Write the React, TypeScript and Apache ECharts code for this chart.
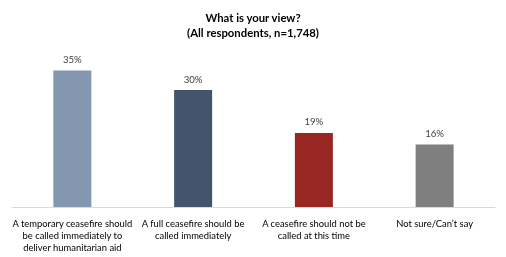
import React, { useEffect, useRef } from "react";
import * as echarts from "echarts";

const categories = [
  "A temporary ceasefire should\nbe called immediately to\ndeliver humanitarian aid",
  "A full ceasefire should be\ncalled immediately",
  "A ceasefire should not be\ncalled at this time",
  "Not sure/Can\u2019t say",
];
const values = [35, 30, 19, 16];
const colors = ["#8497b0", "#44546a", "#982723", "#7f7f7f"];
const titleLines = ["What is your view?", "(All respondents, n=1,748)"];

export default function App() {
  const ref = useRef<HTMLDivElement>(null);
  useEffect(() => {
    if (!ref.current) return;
    const chart = echarts.init(ref.current, undefined, { renderer: "svg" });
    const font = "Lato, 'Open Sans', sans-serif";
    chart.setOption({
      animation: false,
      title: {
        text: titleLines.join("\n"),
        left: "center",
        top: 5,
        textStyle: {
          fontFamily: font,
          fontSize: 11.3,
          fontWeight: "bold",
          color: "#000",
          lineHeight: 15,
        },
      },
      grid: { left: 12, right: 11, top: 51, bottom: 50, containLabel: false },
      xAxis: {
        type: "category",
        data: categories,
        axisLine: { lineStyle: { color: "#d9d9d9", width: 1 } },
        axisTick: { show: false },
        axisLabel: {
          interval: 0,
          color: "#000",
          fontFamily: font,
          fontSize: 9.4,
          lineHeight: 12,
          margin: 10,
        },
      },
      yAxis: {
        type: "value",
        min: 0,
        max: 40,
        show: false,
        splitLine: { show: false },
      },
      series: [
        {
          type: "bar",
          data: values.map((v, i) => ({ value: v, itemStyle: { color: colors[i] } })),
          barWidth: 38,
          label: {
            show: true,
            position: "top",
            formatter: "{c}%",
            color: "#404040",
            fontFamily: font,
            fontSize: 9.6,
            distance: 6,
          },
        },
      ],
    });
    return () => chart.dispose();
  }, []);
  return (
    <div
      ref={ref}
      style={{ position: "fixed", left: 0, top: 0, width: 506, height: 257 }}
    />
  );
}
